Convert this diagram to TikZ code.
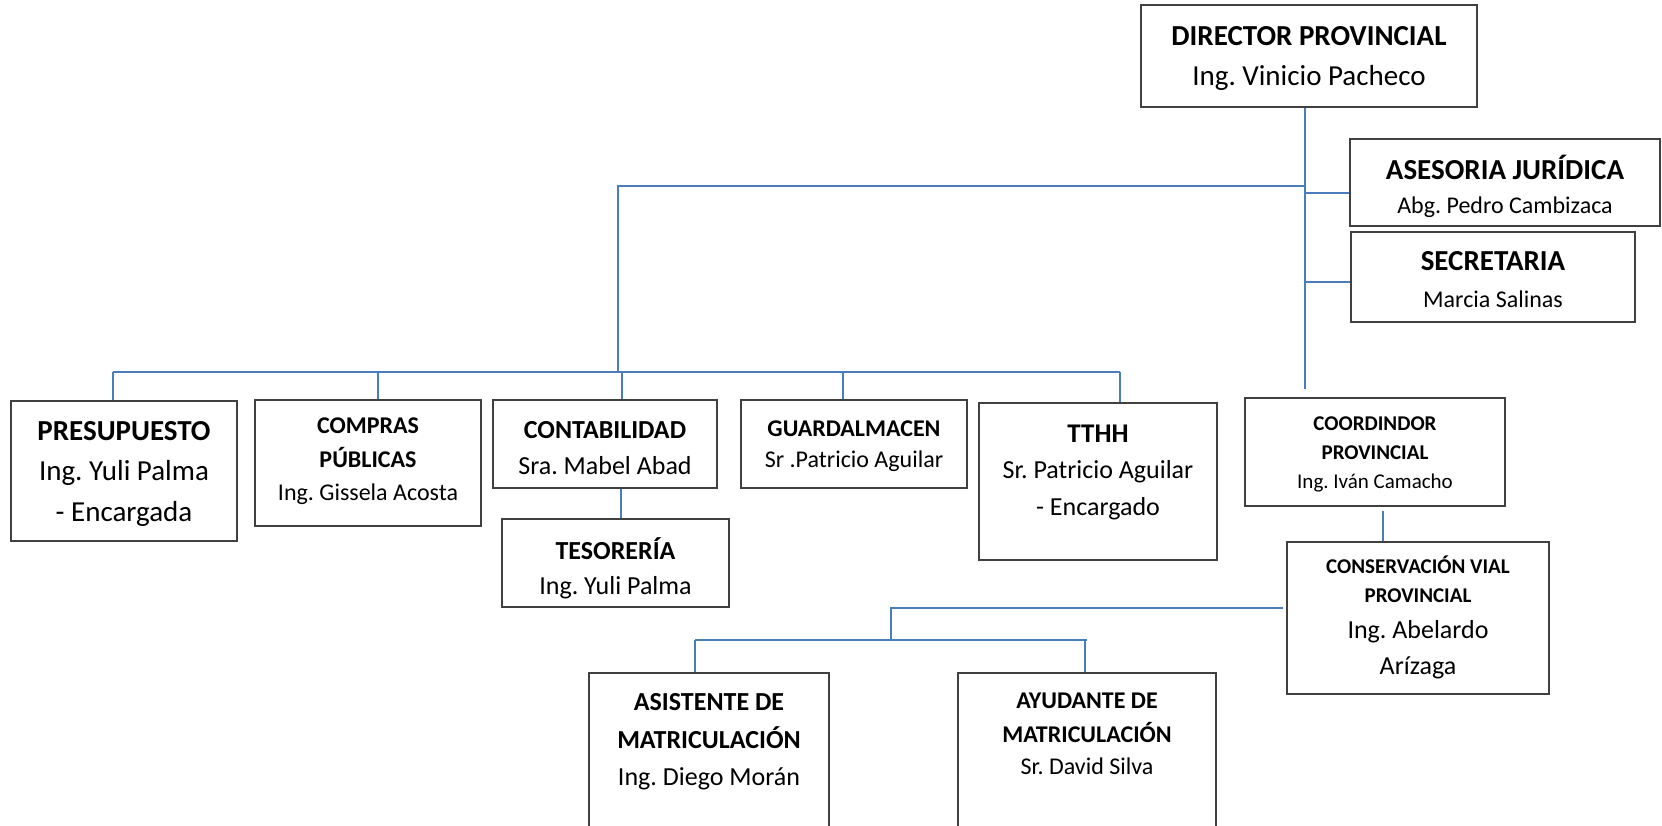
\documentclass[tikz,border=0pt]{standalone}
\usepackage{fontspec}
\setmainfont{Carlito}
\usepackage{tikz}
\frenchspacing

\definecolor{azul}{RGB}{74,126,187}
\definecolor{borde}{RGB}{64,64,64}
% contenido de cada cuadro: ancho, alto, lineas
\newcommand{\cuadro}[3]{\parbox[c][#2pt][t]{#1pt}{\centering #3}}
\newcommand{\tit}[3]{\fontsize{#1}{#2}\selectfont\bfseries #3\par}
\newcommand{\nom}[3]{\fontsize{#1}{#2}\selectfont\mdseries #3\par}
\newcommand{\sube}[1]{\rule{0pt}{#1pt}}

\begin{document}
\begin{tikzpicture}[x=1pt,y=-1pt,
		caja/.style={draw=borde, line width=2pt, inner sep=0pt, fill=white},
		conector/.style={draw=azul, line width=2pt}]
		  \useasboundingbox (0,0) rectangle (1662,825);
		  \clip (0,0) rectangle (1662,825);
		  % direccion
		  \node[caja] (dir) at (1309,56) {\cuadro{336}{102}{\tit{29}{0}{\sube{40}DIRECTOR PROVINCIAL}\nom{29}{40}{Ing. Vinicio Pacheco}}};
		  \node[caja] (ases) at (1505,182.5) {\cuadro{310}{87}{\tit{29}{0}{\sube{40}ASESORIA JURÍDICA}\nom{24}{34}{Abg. Pedro Cambizaca}}};
		  \node[caja] (secr) at (1493,277) {\cuadro{284}{90}{\tit{29}{0}{\sube{38}SECRETARIA}\nom{24}{37}{Marcia Salinas}}};
		  % departamentos
		  \node[caja] (presu) at (124,471) {\cuadro{226}{140}{\tit{29}{0}{\sube{39}PRESUPUESTO}\nom{29}{40}{Ing. Yuli Palma}\nom{29}{41}{- Encargada}}};
		  \node[caja] (compras) at (368,463) {\cuadro{226}{126}{\tit{24}{0}{\sube{33}COMPRAS}\tit{24}{34}{PÚBLICAS}\nom{24}{33}{Ing. Gissela Acosta}}};
		  \node[caja] (conta) at (605,444) {\cuadro{224}{88}{\tit{26}{0}{\sube{38}CONTABILIDAD}\nom{26}{36}{Sra. Mabel Abad}}};
		  \node[caja] (teso) at (615.5,563) {\cuadro{227}{88}{\tit{26}{0}{\sube{40}TESORERÍA}\nom{26}{35}{Ing. Yuli Palma}}};
		  \node[caja] (guard) at (854,444) {\cuadro{226}{88}{\tit{24}{0}{\sube{36}GUARDALMACEN}\nom{24}{31}{Sr .Patricio Aguilar}}};
		  \node[caja] (tthh) at (1098,481.5) {\cuadro{238}{157}{\tit{27}{0}{\sube{39}TTHH}\nom{26}{36}{Sr. Patricio Aguilar}\nom{26}{37}{- Encargado}}};
		  % coordinacion
		  \node[caja] (coord) at (1375,452) {\cuadro{260}{108}{\tit{21}{0}{\sube{32}COORDINDOR}\tit{21}{29}{PROVINCIAL}\nom{21}{29}{Ing. Iván Camacho}}};
		  \node[caja] (conse) at (1418,618) {\cuadro{262}{152}{\tit{21}{0}{\sube{31}CONSERVACIÓN VIAL}\tit{21}{29}{PROVINCIAL}\nom{26}{36}{Ing. Abelardo}\nom{26}{36}{Arízaga}}};
		  \node[caja] (asis) at (709,773) {\cuadro{240}{200}{\tit{26}{0}{\sube{37}ASISTENTE DE}\tit{26}{38}{MATRICULACIÓN}\nom{26}{37}{Ing. Diego Morán}}};
		  \node[caja] (ayud) at (1087,773) {\cuadro{258}{200}{\tit{24}{0}{\sube{35}AYUDANTE DE}\tit{24}{34}{MATRICULACIÓN}\nom{24}{32}{Sr. David Silva}}};
		  % lineas
		  \coordinate (eje) at ([xshift=-4pt]dir.south);
		  \coordinate (bus) at (618,372);
		  \draw[conector] (eje) -- (eje |- 0,389);
		  \draw[conector] (eje |- 0,186) -- (bus |- 0,186) -- (bus);
		  \draw[conector] (eje |- 0,193) -- (ases.west |- 0,193);
		  \draw[conector] (eje |- 0,282) -- (secr.west |- 0,282);
		  \draw[conector] (113,372) -- (1120,372);
		  \foreach \x/\n in {113/presu,378/compras,622/conta,843/guard,1120/tthh}
		    \draw[conector] (\x,372) -- (\x,0 |- \n.north);
		  \draw[conector] (621,0 |- conta.south) -- (621,0 |- teso.north);
		  \draw[conector] (1383,511) -- (1383,0 |- conse.north);
		  %\draw[conector] (coord.south) -- (conse.north);
		  \draw[conector] (1283,608) -- (891,608) -- (891,640);
		  \draw[conector] (695,640) -- (1087,640);
		  \draw[conector] (695,640) -- (695,0 |- asis.north);
		  \draw[conector] (1085,640) -- (1085,0 |- ayud.north);
		\end{tikzpicture}
\end{document}
